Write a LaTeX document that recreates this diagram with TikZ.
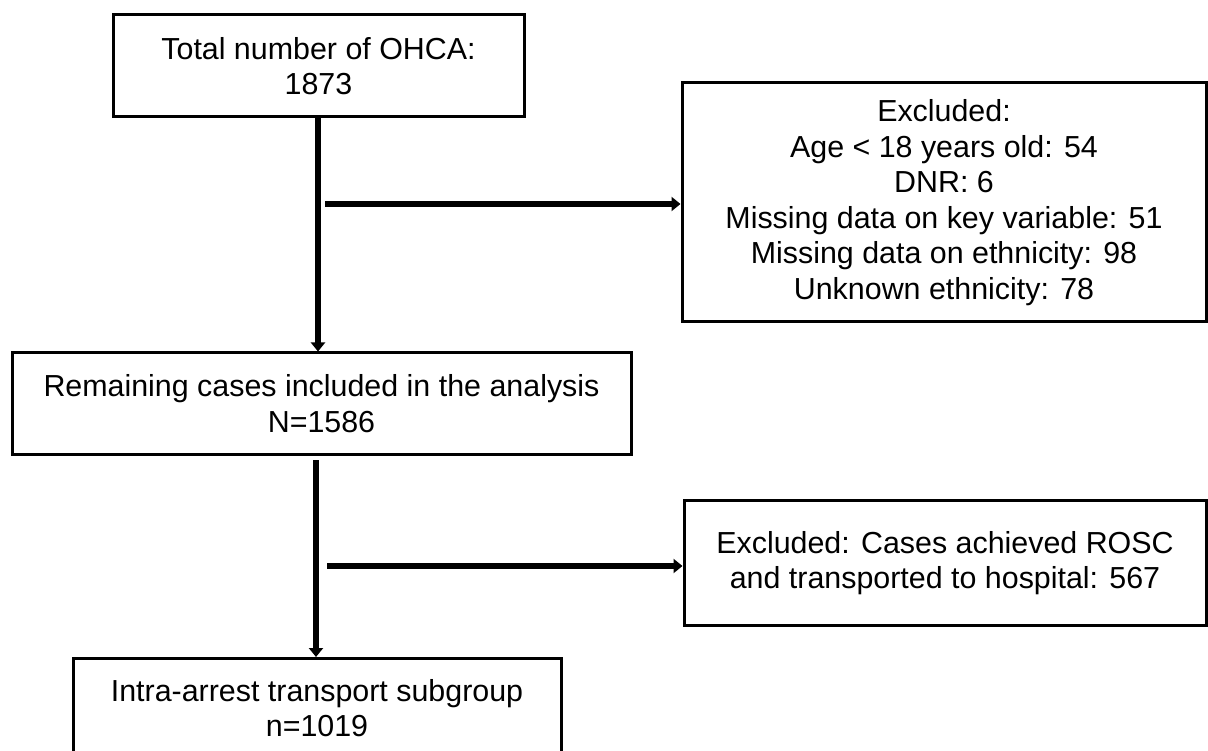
\documentclass[tikz,border=0pt]{standalone}
\usepackage{fontspec}
\setmainfont{Liberation Sans}
\usetikzlibrary{arrows.meta}
\begin{document}
\begin{tikzpicture}[x=1pt,y=-1pt,
  box/.style={draw=black,line width=3pt,align=center,inner sep=0pt,
    font=\fontsize{30.4}{35.5}\selectfont},
  conn/.style={line width=6pt,-{Triangle[length=9pt,width=14pt]}}]
\clip (0,0) rectangle (1208,751);
\fill[white] (0,0) rectangle (1208,751);
\node[box,minimum width=411pt,minimum height=102pt] (b1) at (318.5,66) {Total number of OHCA:\\1873};
\node[box,minimum width=524pt,minimum height=239pt] (b3) at (944,202.5) {Excluded:\\Age < 18 years old: 54\\DNR: 6\\Missing data on key variable: 51\\Missing data on ethnicity: 98\\Unknown ethnicity: 78};
\node[box,minimum width=619pt,minimum height=101pt] (b2) at (321.5,403.5) {Remaining cases included in the analysis\\N=1586};
\node[box,minimum width=522pt,minimum height=125pt] (b4) at (945,563) {Excluded: Cases achieved ROSC\\and transported to hospital: 567};
\node[box,minimum width=488pt,minimum height=120pt,anchor=north] (b5) at (317,657) {};
\node[font=\fontsize{30.4}{35.5}\selectfont,align=center,inner sep=0pt] (t5) at (317,708) {Intra-arrest transport subgroup\\n=1019};
\coordinate (v1) at (318,117);
\coordinate (h1) at (325,204);
\coordinate (v2) at (316,460);
\coordinate (h2) at (327,566);
\draw[conn] (v1) -- (v1 |- b2.north);
\draw[conn] (h1) -- (h1 -| b3.west);
\draw[conn] (v2) -- (v2 |- b5.north);
\draw[conn] (h2) -- (h2 -| b4.west);
\end{tikzpicture}
\end{document}
